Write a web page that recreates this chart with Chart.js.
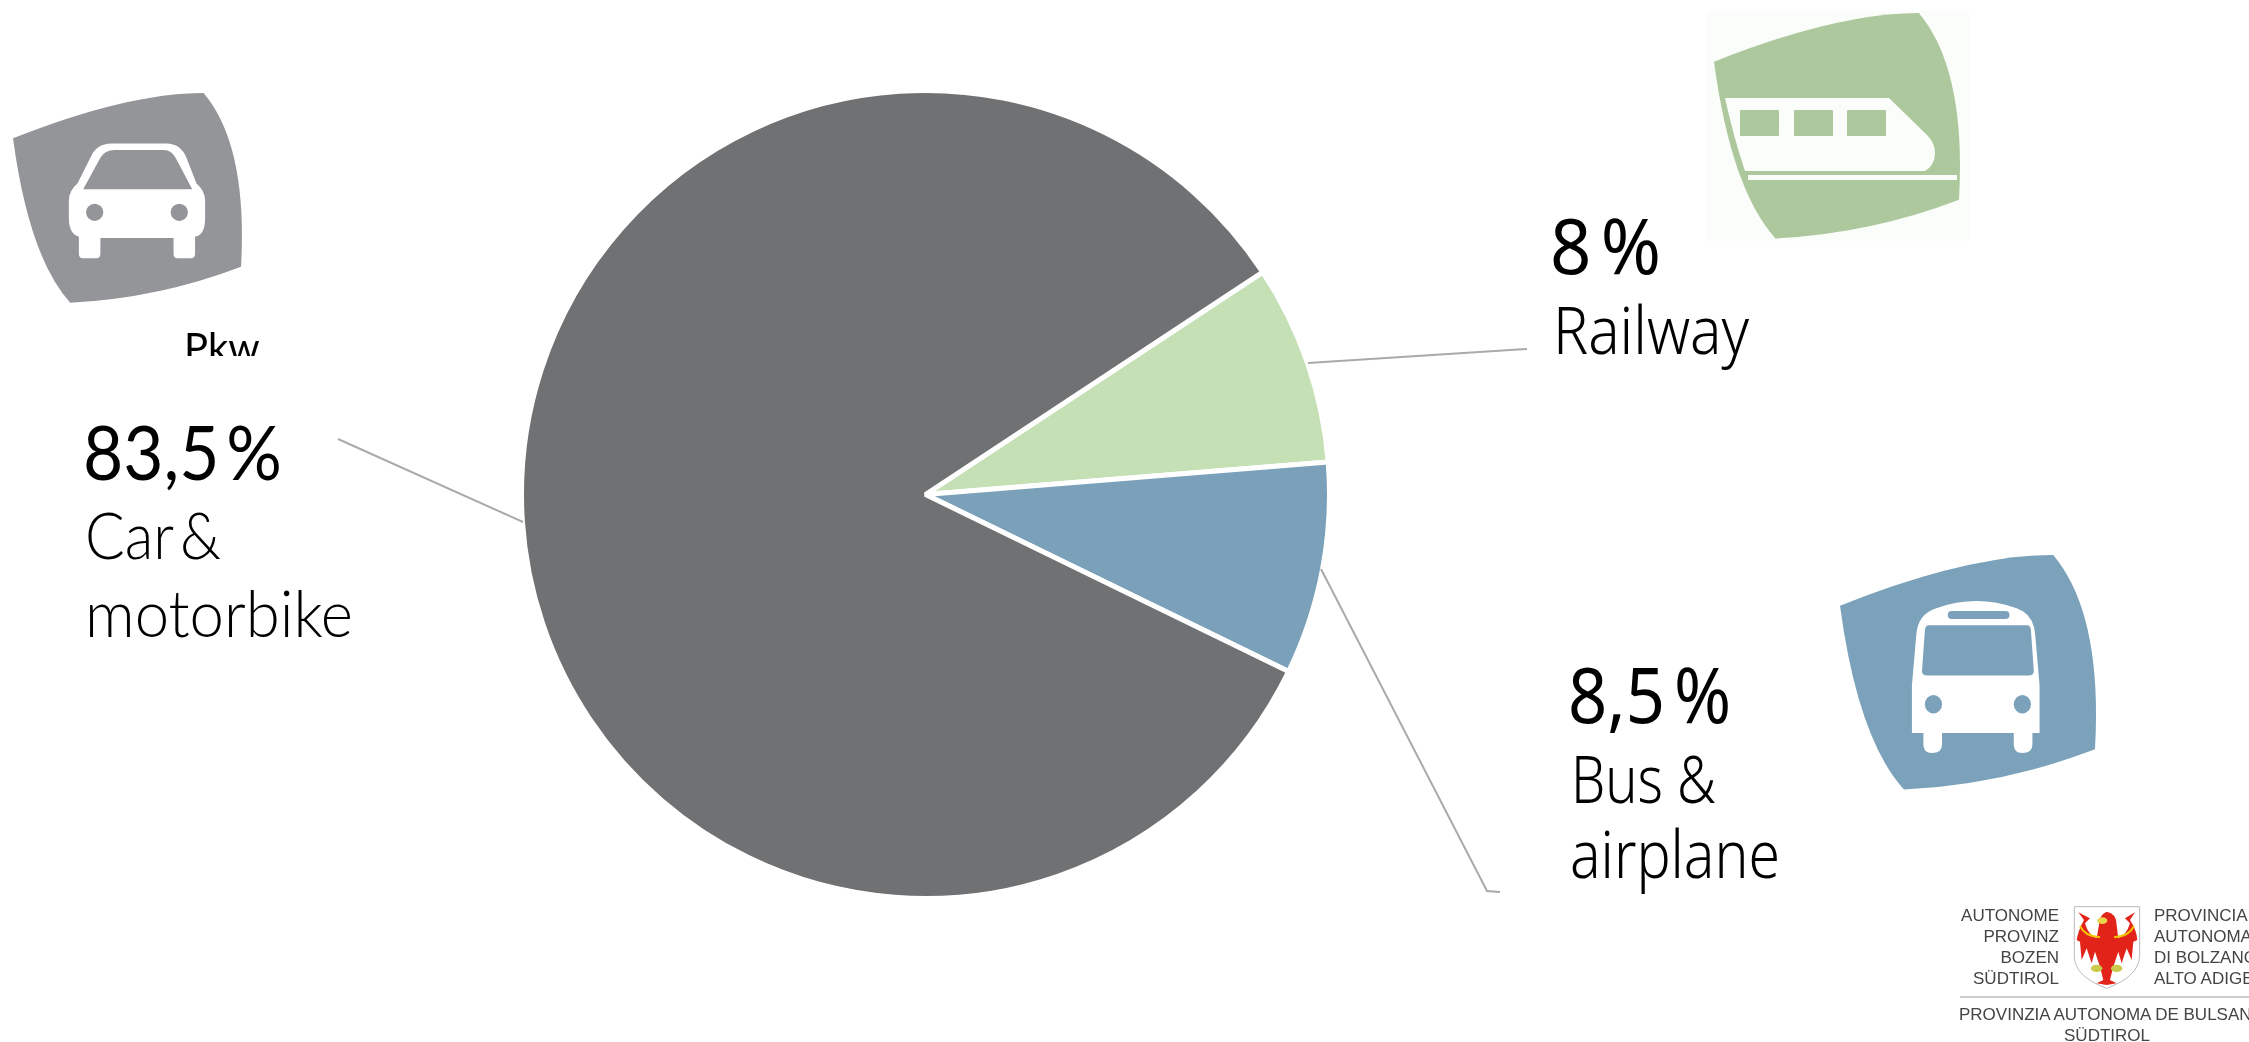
<!DOCTYPE html>
<html>
<head>
<meta charset="utf-8">
<title>Modal split</title>
<script src="https://cdn.jsdelivr.net/npm/chart.js@4/dist/chart.umd.min.js"></script>
<style>
    html, body { margin: 0; padding: 0; background: #fff; width: 2249px; height: 1042px; overflow: hidden; }
    #pie-box { position: absolute; left: 518.5px; top: 88px; width: 813px; height: 813px; }
    #overlay { position: absolute; left: 0; top: 0; width: 2249px; height: 1042px; }
    .pct-l { font: 400 76px Lato, sans-serif; fill: #000; }
    .name-l { font: 300 66px Lato, sans-serif; fill: #000; }
    .pct-r { font: 400 76px "Noto Sans", sans-serif; fill: #000; }
    .name-r { font: 300 66px "Noto Sans", sans-serif; fill: #000; }
    .lead { stroke: #aaa; stroke-width: 2; fill: none; }
    .logo { font: 400 17px "Liberation Sans", Arial, sans-serif; fill: #444; }
</style>
</head>
<body>
<div id="pie-box"><canvas id="pie" width="813" height="813"></canvas></div>

<svg id="overlay" viewBox="0 0 2249 1042" xmlns="http://www.w3.org/2000/svg">
    <defs>
        <path id="badge" d="M0,199 Q500,0 836,0 Q1030,230 1000,762 Q640,900 251,920 Q70,720 0,199 Z"/>
        <clipPath id="pkw-clip"><rect x="150" y="320" width="150" height="36"/></clipPath>
    </defs>

    <!-- car badge -->
    <use href="#badge" transform="translate(13,93) scale(0.228)" fill="#939598"/>
    <g transform="scale(1.4343)">
        <path fill="#fff" d="M78,100 H116 Q126,100 130,110 L137,128 Q143,133 143,140 V152 Q143,164 136,165 V177 Q136,180 133,180 H124 Q121,180 121,177 V166 H70 V177 Q70,180 67,180 H58 Q55,180 55,177 V165 Q48,163 48,152 V140 Q48,133 54,128 L63,110 Q67,100 78,100 Z"/>
        <path fill="#939598" d="M80,104.5 H114 Q120,104.5 123,111 L134,132 H58 L70,110 Q73,104.5 80,104.5 Z"/>
        <ellipse cx="66" cy="148" rx="6" ry="6" fill="#939598"/>
        <ellipse cx="125" cy="148" rx="6" ry="6" fill="#939598"/>
    </g>
    <text class="name-l" style="font-weight:400;font-size:40px" x="184" y="362" clip-path="url(#pkw-clip)">Pkw</text>

    <!-- railway badge -->
    <rect x="1707" y="11" width="262" height="230" fill="#fafdf9"/>
    <use href="#badge" transform="translate(1714,13) scale(0.245)" fill="#adc89c"/>
    <path fill="#fafdf9" d="M1725,98 H1889 L1927,135 Q1935,143 1935,153 Q1935,165 1925,171 H1745 Q1733,135 1725,98 Z"/>
    <rect x="1740" y="110" width="39" height="26" rx="1" fill="#adc89c"/>
    <rect x="1794" y="110" width="39" height="26" rx="1" fill="#adc89c"/>
    <rect x="1847" y="110" width="39" height="26" rx="1" fill="#adc89c"/>
    <rect x="1748" y="175" width="209" height="5" fill="#fafdf9"/>

    <!-- bus badge -->
    <use href="#badge" transform="translate(1840,555) scale(0.255)" fill="#7ba2ba"/>
    <g transform="scale(1.4343)">
        <path fill="#fff" d="M1336,443 Q1337,428 1350,424 Q1378,414 1406,424 Q1418,428 1419,443 L1422,478 V511 H1417 V519 Q1417,525 1410,525 Q1404,525 1404,519 V511 H1354 V519 Q1354,525 1347,525 Q1341,525 1341,519 V511 H1333 V478 Z"/>
        <rect x="1358" y="426" width="43" height="5.5" rx="2.7" fill="#7ba2ba"/>
        <path fill="#7ba2ba" d="M1345,436 H1413 Q1416,436 1416,440 L1418,468 Q1418,471 1414,471 H1344 Q1340,471 1340,468 L1342,440 Q1342,436 1345,436 Z"/>
        <ellipse cx="1348" cy="491" rx="6" ry="6.5" fill="#7ba2ba"/>
        <ellipse cx="1410" cy="491" rx="6" ry="6.5" fill="#7ba2ba"/>
    </g>

    <!-- leader lines -->
    <polyline class="lead" points="338,439 523,522"/>
    <polyline class="lead" points="1308,363 1527,349"/>
    <polyline class="lead" points="1321,569 1487,891 1500,892"/>

    <!-- labels -->
    <text id="label-car" class="pct-l" x="83" y="480" word-spacing="-12" textLength="199" lengthAdjust="spacingAndGlyphs"></text>
    <text class="name-l" x="85" y="559" word-spacing="-10" textLength="136" lengthAdjust="spacingAndGlyphs">Car &amp;</text>
    <text class="name-l" x="85" y="637" textLength="268" lengthAdjust="spacingAndGlyphs">motorbike</text>

    <text id="label-rail" class="pct-r" x="1550" y="274" word-spacing="-10" textLength="111" lengthAdjust="spacingAndGlyphs"></text>
    <text class="name-r" x="1553" y="354" textLength="196" lengthAdjust="spacingAndGlyphs">Railway</text>

    <text id="label-bus" class="pct-r" x="1568" y="723" word-spacing="-10" textLength="163" lengthAdjust="spacingAndGlyphs"></text>
    <text class="name-r" x="1571" y="803" textLength="145" lengthAdjust="spacingAndGlyphs">Bus &amp;</text>
    <text class="name-r" x="1570" y="878" textLength="210" lengthAdjust="spacingAndGlyphs">airplane</text>

    <!-- province logo -->
    <g text-anchor="end">
        <text class="logo" x="2059" y="921">AUTONOME</text>
        <text class="logo" x="2059" y="942">PROVINZ</text>
        <text class="logo" x="2059" y="963">BOZEN</text>
        <text class="logo" x="2059" y="984">SÜDTIROL</text>
    </g>
    <text class="logo" x="2154" y="921">PROVINCIA</text>
    <text class="logo" x="2154" y="942">AUTONOMA</text>
    <text class="logo" x="2154" y="963">DI BOLZANO</text>
    <text class="logo" x="2154" y="984">ALTO ADIGE</text>
    <rect x="1960" y="996" width="289" height="2" fill="#ccc"/>
    <text class="logo" x="1959" y="1020">PROVINZIA AUTONOMA DE BULSAN</text>
    <text class="logo" x="2107" y="1041" text-anchor="middle">SÜDTIROL</text>
    <g transform="translate(1900,880) scale(0.3333)">
        <path d="M523,80 H719 V230 Q715,290 620,325 Q525,290 523,230 Z" fill="#fff" stroke="#bbb" stroke-width="3"/>
        <path fill="#e2231a" d="M620,95 Q650,100 650,135 L655,175 Q680,165 690,130 L675,115 L705,97 L690,120 Q710,150 712,180 L700,185 L695,240 L680,205 L665,250 L655,215 L640,260 L630,300 L650,310 L620,315 L590,310 L610,300 L600,260 L585,215 L575,250 L560,205 L545,240 L540,185 L530,180 Q535,150 552,120 L535,97 L570,115 L555,130 Q565,165 590,175 L597,135 Q597,105 620,95 Z"/>
        <path d="M540,138 Q555,170 600,172 M702,138 Q687,170 642,172" stroke="#f3c300" stroke-width="6" fill="none"/>
        <ellipse cx="607" cy="122" rx="15" ry="10" fill="#e8d34a"/>
        <ellipse cx="590" cy="265" rx="17" ry="11" fill="#c9c94a"/>
        <ellipse cx="650" cy="265" rx="17" ry="11" fill="#c9c94a"/>
    </g>
</svg>

<script>
    const categories = ['Railway', 'Bus & airplane', 'Car & motorbike'];
    const shareValues = [8, 8.5, 83.5];
    const shareLabels = ['8 %', '8,5 %', '83,5 %'];
    const sliceColors = ['#c5e0b5', '#7aa1b9', '#707173'];

    document.getElementById('label-rail').textContent = shareLabels[0];
    document.getElementById('label-bus').textContent = shareLabels[1];
    document.getElementById('label-car').textContent = shareLabels[2];

    new Chart(document.getElementById('pie').getContext('2d'), {
        type: 'pie',
        data: {
            labels: categories,
            datasets: [{
                data: shareValues,
                backgroundColor: sliceColors,
                borderColor: '#fff',
                borderWidth: 5,
                hoverBorderWidth: 5,
                hoverOffset: 0
            }]
        },
        options: {
            responsive: false,
            animation: false,
            rotation: 56.6,
            layout: { padding: 0 },
            plugins: { legend: { display: false }, tooltip: { enabled: false } }
        }
    });
</script>
</body>
</html>
